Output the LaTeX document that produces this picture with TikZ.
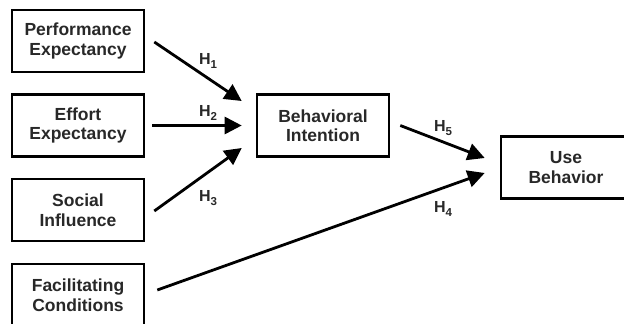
\documentclass[tikz,border=0pt]{standalone}
\usepackage{fontspec}
\setmainfont{Liberation Sans}
\usetikzlibrary{arrows.meta,calc}
\definecolor{txt}{RGB}{40,40,40}
% hypothesis label: H with a lowered index
\newcommand{\hypo}[1]{H\raisebox{-4pt}{\fontsize{11.5}{12}\selectfont #1}}
\begin{document}
\begin{tikzpicture}[x=1pt,y=-1pt,
  box/.style={draw=black,line width=2.6pt,fill=white,minimum width=132pt,minimum height=62pt,
    align=center,inner sep=0pt,text=txt,font=\fontsize{17.5}{19.5}\selectfont\bfseries},
  arr/.style={line width=2.8pt,-{Triangle[length=17pt,width=17pt]}},
  hyp/.style={text=txt,font=\fontsize{16}{18}\selectfont\bfseries,inner sep=0pt}]
\useasboundingbox (0,0) rectangle (624,324);
% constructs
\node[box] (pe) at (78,41) {Performance\\Expectancy};
\node[box] (ee) at (78,125.5) {Effort\\Expectancy};
\node[box] (si) at (78,210) {Social\\Influence};
\node[box] (fc) at (78,295) {Facilitating\\Conditions};
\node[box,minimum width=132pt] (bi) at (323,125.5) {Behavioral\\Intention};
\node[box,minimum width=130pt] (ub) at (566,167.5) {Use\\Behavior};
% paths
\draw[arr] ($(pe.east)+(9,1)$) -- ($(bi.west)+(-14,-24.5)$);
\draw[arr] ($(ee.east)+(7,0)$) -- ($(bi.west)+(-14,0)$);
\draw[arr] ($(si.east)+(9,1)$) -- ($(bi.west)+(-14,22.5)$);
\draw[arr] ($(bi.east)+(10,0)$) -- ($(ub.west)+(-15,-9.5)$);
\draw[arr] ($(fc.east)+(12,-5)$) -- ($(ub.west)+(-15,5.5)$);
% hypothesis labels
\node[hyp] (h1) at (208,61) {\hypo{1}};
\node[hyp] (h2) at (208,113) {\hypo{2}};
\node[hyp] (h3) at (208,198) {\hypo{3}};
\node[hyp] (h5) at (443,128) {\hypo{5}};
\node[hyp] (h4) at (443,209) {\hypo{4}};
\end{tikzpicture}
\end{document}
